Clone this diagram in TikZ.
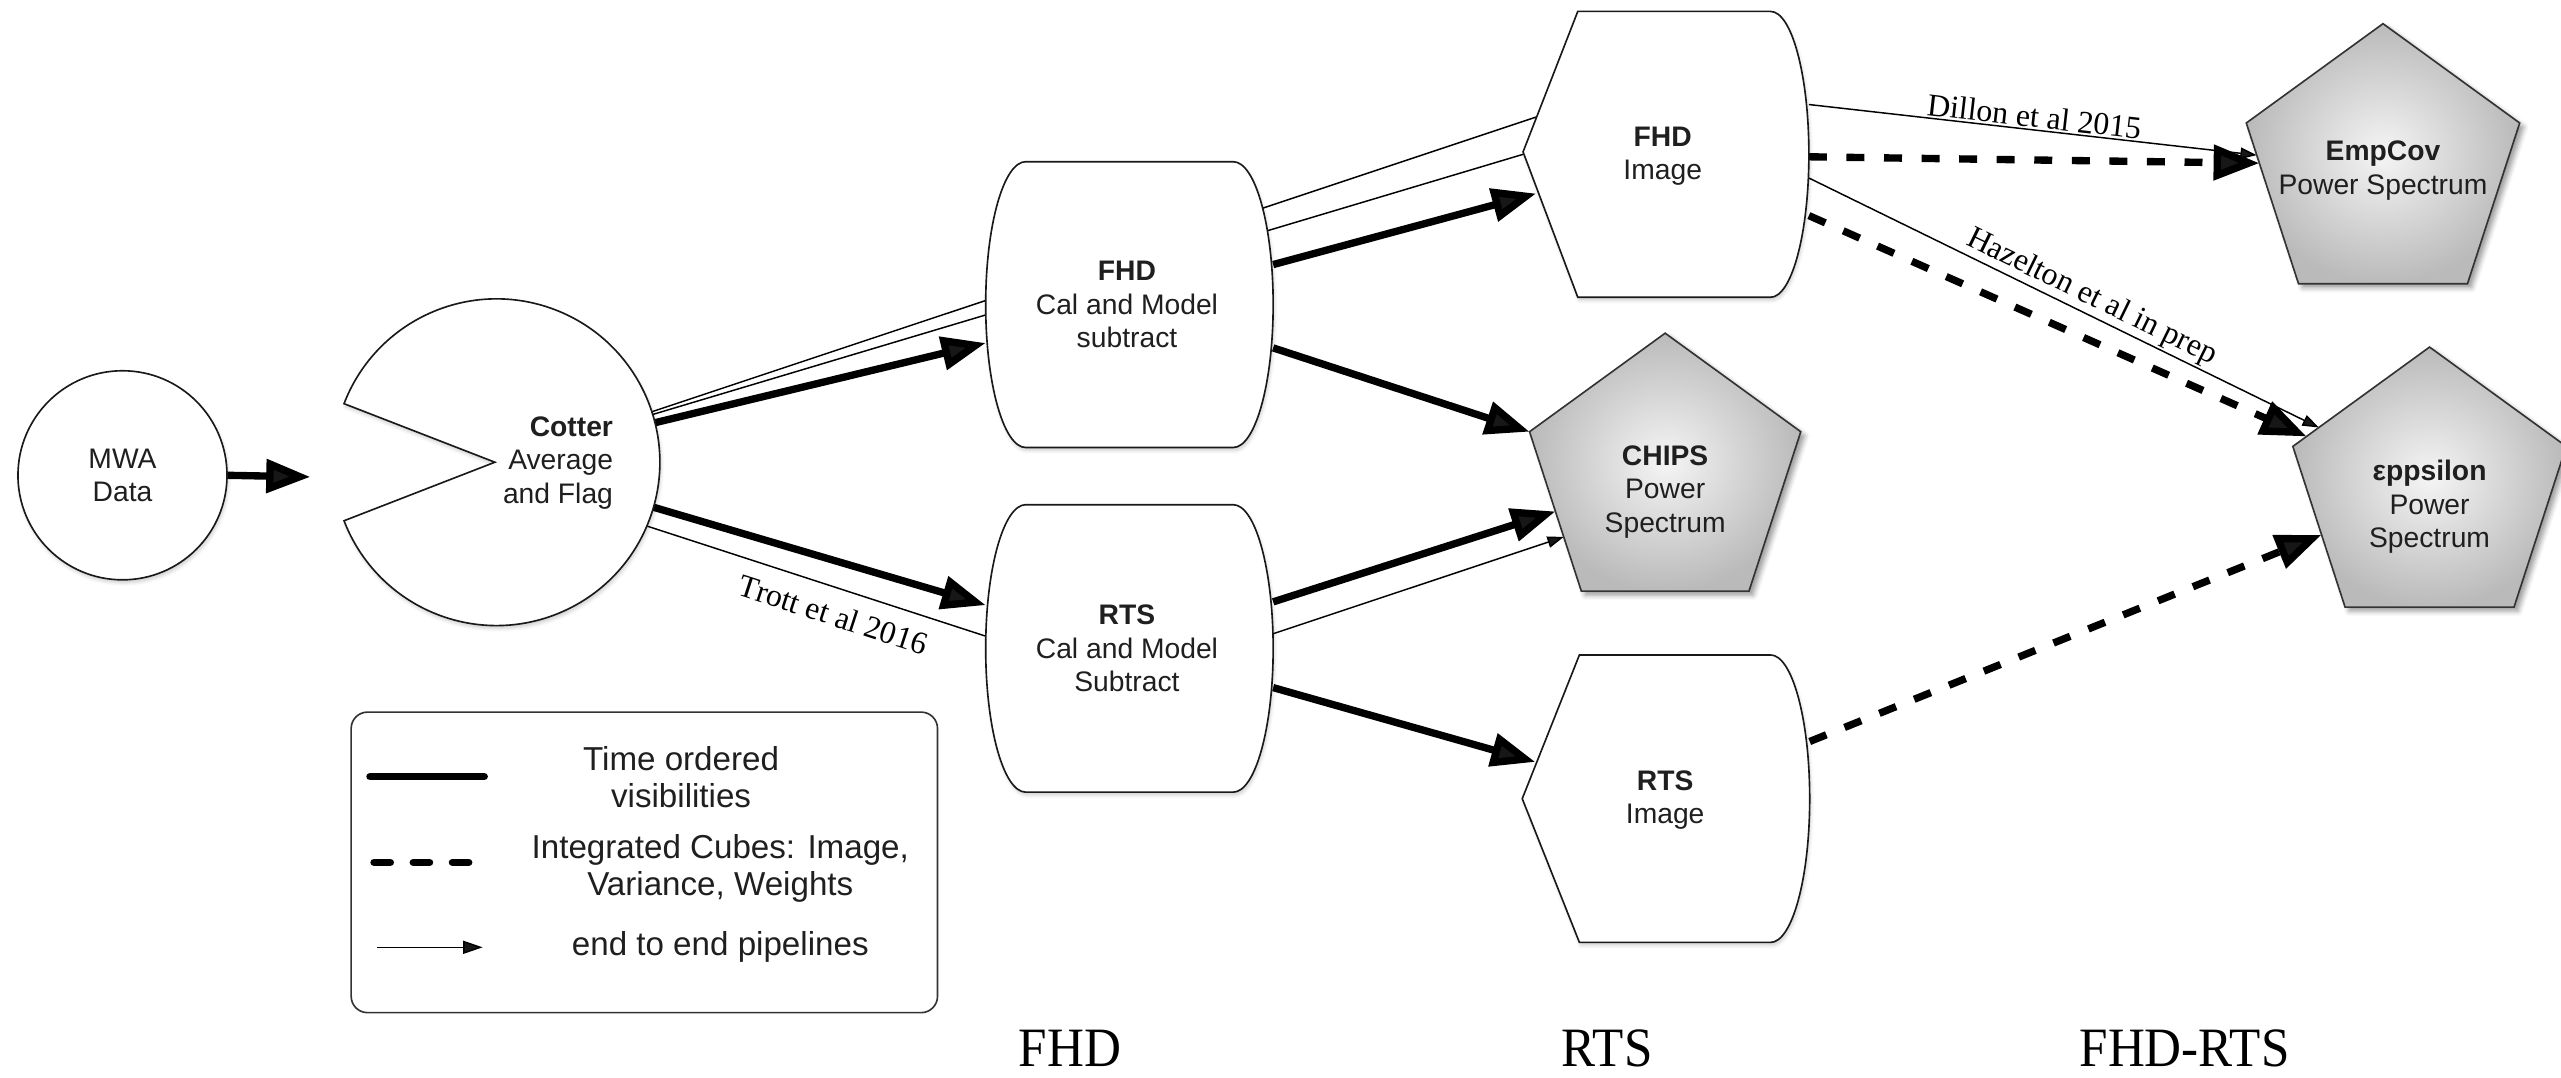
\documentclass[tikz,border=0pt]{standalone}
\usepackage{fontspec}
\setmainfont{Liberation Serif}
\setsansfont{Liberation Sans}
\usetikzlibrary{arrows.meta,shapes.geometric,calc,shadows.blur}
\pgfdeclarelayer{edges}
\pgfdeclarelayer{shapes}
\pgfsetlayers{edges,shapes,main}
\begin{document}
\begin{tikzpicture}[x=1pt,y=1pt,
  lbl/.style={font=\sffamily\fontsize{17.3}{20.5}\selectfont, align=center, inner sep=0pt, text=black!88},
  leg/.style={font=\sffamily\fontsize{20.3}{22.8}\selectfont, align=center, inner sep=0pt, text=black!88},
  ref/.style={font=\fontsize{19.5}{22}\selectfont, inner sep=1pt},
  column/.style={font=\fontsize{34}{40}\selectfont, xscale=0.92, inner sep=0pt},
  outline/.style={draw=black!90, line width=1pt, fill=white,
    blur shadow={shadow xshift=0.8pt, shadow yshift=-2pt, shadow blur radius=2pt, shadow opacity=18}},
  pent/.style={regular polygon, regular polygon sides=5, minimum size=#1, inner sep=0pt, outer sep=0pt,
    draw=black!80, line width=1pt, inner color=black!4, outer color=black!27,
    blur shadow={shadow xshift=2.5pt, shadow yshift=-2.5pt, shadow blur radius=3pt, shadow opacity=40}},
  hold/.style={inner sep=0pt, outer sep=0pt},
  vis/.style={line width=4.5pt, -{Triangle[length=27pt,width=20pt]}},
  cube/.style={line width=4.5pt, dash pattern=on 11pt off 12pt, -{Triangle[length=28pt,width=21pt]}},
  pipe/.style={line width=0.9pt},
  pipearrow/.style={line width=0.9pt, -{Triangle[length=10pt,width=7pt]}},
]
\useasboundingbox (0,0) rectangle (1568,-660);

% ---------- node frames (anchors for connectors) ----------
\node[hold, circle, minimum size=200pt] (cotter) at (304,-283) {};
\node[hold, minimum width=176pt, minimum height=175pt] (fhdcal) at (691.5,-186.5) {};
\node[hold, minimum width=176pt, minimum height=176pt] (rtscal) at (691.5,-397) {};
\node[hold, minimum width=175pt, minimum height=175pt] (fhdimg) at (1020,-94.5) {};
\node[hold, minimum width=176pt, minimum height=176pt] (rtsimg) at (1020,-489) {};
\coordinate (cotterin) at (190,-292);

% ---------- shapes ----------
\begin{pgfonlayer}{shapes}
  \node[outline, circle, minimum size=128pt, inner sep=0pt, outer sep=0pt, lbl] (mwa) at (75,-291) {MWA\\Data};
  % pac-man shaped averaging stage
  \draw[outline] ([xshift=-1pt]cotter.center) -- ([shift={(159:100pt)}]cotter.center)
    arc[start angle=159, end angle=-159, radius=100pt] -- cycle;
  % calibration barrels
  \draw[outline, shift={(fhdcal.center)}] (-63.5,87.5) -- (63.5,87.5)
    arc[start angle=90, end angle=-90, x radius=24.5pt, y radius=87.5pt] -- (-63.5,-87.5)
    arc[start angle=270, end angle=90, x radius=24.5pt, y radius=87.5pt] -- cycle;
  \draw[outline, shift={(rtscal.center)}] (-63.5,88) -- (63.5,88)
    arc[start angle=90, end angle=-90, x radius=24.5pt, y radius=88pt] -- (-63.5,-88)
    arc[start angle=270, end angle=90, x radius=24.5pt, y radius=88pt] -- cycle;
  % image stages
  \draw[outline, shift={(fhdimg.center)}] (-87.5,1.5) -- (-54,87.5) -- (64,87.5)
    arc[start angle=90, end angle=-90, x radius=23.5pt, y radius=87.5pt] -- (-54,-87.5) -- cycle;
  \draw[outline, shift={(rtsimg.center)}] (-88,0) -- (-53,88) -- (64,88)
    arc[start angle=90, end angle=-90, x radius=24pt, y radius=88pt] -- (-53,-88) -- cycle;
  % power spectrum estimators
  \node[pent=174.6pt] (chips) at (1019.5,-291.3) {};
  \node[pent=176pt] (empcov) at (1459,-102.5) {};
  \node[pent=176pt] (eps) at (1487.5,-300.5) {};
\end{pgfonlayer}

% ---------- node texts ----------
\node[lbl, align=right, anchor=east] (cottertext) at (375.5,-283.5) {\textbf{Cotter}\\Average\\and Flag};
\node[lbl] (fhdcaltext) at (690,-186.5) {\textbf{FHD}\\Cal and Model\\subtract};
\node[lbl] (rtscaltext) at (690,-397) {\textbf{RTS}\\Cal and Model\\Subtract};
\node[lbl] (fhdimgtext) at (1018,-95.5) {\textbf{FHD}\\Image};
\node[lbl] (rtsimgtext) at (1019.5,-490) {\textbf{RTS}\\Image};
\node[lbl] (chipstext) at (1019.5,-301) {\textbf{CHIPS}\\Power\\Spectrum};
\node[lbl] (empcovtext) at (1459,-104.5) {\textbf{EmpCov}\\Power Spectrum};
\node[lbl] (epstext) at (1487.5,-310.5) {\textbf{εppsilon}\\Power\\Spectrum};

% ---------- connectors ----------
\begin{pgfonlayer}{edges}
  \draw[vis] (mwa.east) -- (cotterin);
  % end to end pipelines through FHD
  \draw[pipe] (cotter.18.6) -- ([shift={(8.5,23)}]fhdimg.west);
  \draw[pipe] (cotter.17) -- (fhdimg.west);
  % time ordered visibilities
  \draw[vis] (cotter.14) -- ([yshift=-23.5pt]fhdcal.west);
  \draw[vis] (cotter.-16.3) -- ([yshift=26.5pt]rtscal.west);
  \draw[pipe] (cotter.-23.7) -- node[ref, sloped, below, inner sep=9pt, pos=0.575] {Trott et al 2016} ([yshift=7.5pt]rtscal.west);
  \draw[vis] ([yshift=24.5pt]fhdcal.east) -- ([shift={(8,-24)}]fhdimg.west);
  \draw[vis] ([yshift=-26.5pt]fhdcal.east) -- (chips.corner 2);
  \draw[vis] ([yshift=28.5pt]rtscal.east) -- (chips.side 2);
  \draw[pipearrow] ([yshift=9pt]rtscal.east) -- ($(chips.corner 2)!0.66!(chips.corner 3)$);
  \draw[vis] ([yshift=-24pt]rtscal.east) -- ([shift={(8,22.5)}]rtsimg.west);
  % integrated cubes
  \draw[cube] ([yshift=-1.5pt]fhdimg.east) -- ($(empcov.corner 2)!0.25!(empcov.corner 3)$);
  \draw[pipearrow] ([yshift=30.5pt]fhdimg.east) -- node[ref, sloped, above, pos=0.5] {Dillon et al 2015} ($(empcov.corner 2)!0.2!(empcov.corner 3)$);
  \draw[cube] ([yshift=-37.5pt]fhdimg.east) -- ($(eps.corner 2)!0.1!(eps.corner 1)$);
  \draw[pipearrow] ([yshift=-14.5pt]fhdimg.east) -- node[ref, sloped, above, pos=0.54] {Hazelton et al in prep} ($(eps.corner 2)!0.19!(eps.corner 1)$);
  \draw[cube] ([yshift=35pt]rtsimg.east) -- ($(eps.corner 2)!0.55!(eps.corner 3)$);
\end{pgfonlayer}

% ---------- legend ----------
\node[draw=black!80, line width=1pt, rounded corners=10pt, minimum width=359pt, minimum height=184pt, inner sep=0pt] (legend) at (394.5,-528) {};
\draw[line width=4.5pt, line cap=round] ([shift={(12,-40)}]legend.north west) -- ++(70,0);
\draw[line width=4.5pt, line cap=round, dash pattern=on 10pt off 14pt] ([shift={(14.5,-92.5)}]legend.north west) -- ++(58,0);
\draw[pipe, -{Triangle[length=12pt,width=8pt]}] ([shift={(16.5,-144.5)}]legend.north west) -- ++(64.5,0);
\node[leg] (legvis) at (417,-475.75) {Time ordered\\visibilities};
\node[leg] (legcube) at (441,-531.75) {Integrated Cubes: Image,\\Variance, Weights};
\node[leg] (legpipe) at (441,-580) {end to end pipelines};

% ---------- column headings ----------
\node[column] (colfhd) at (655,-642) {FHD};
\node[column] (colrts) at (984,-642) {RTS};
\node[column] (colboth) at (1337.5,-642) {FHD-RTS};
\end{tikzpicture}
\end{document}
